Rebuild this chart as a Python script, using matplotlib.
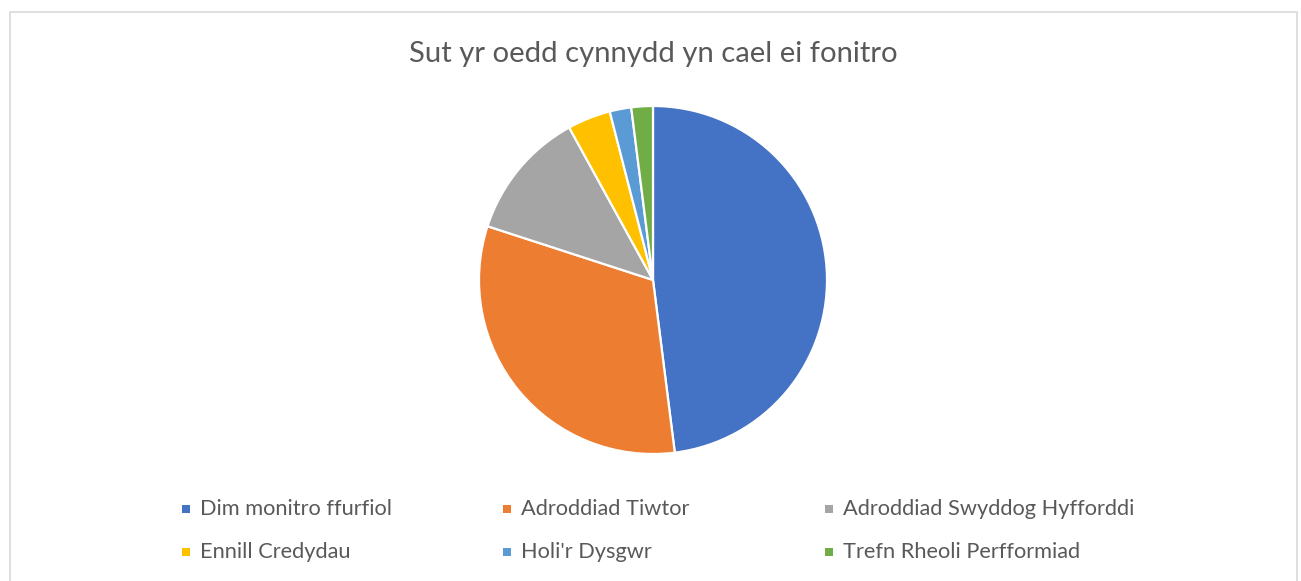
import matplotlib.pyplot as plt
import matplotlib.patches as patches

# donnees
labels = ["Dim monitro ffurfiol", "Adroddiad Tiwtor", "Adroddiad Swyddog Hyfforddi",
          "Ennill Credydau", "Holi'r Dysgwr", "Trefn Rheoli Perfformiad"]
values = [24, 16, 6, 2, 1, 1]
colors = ["#4472C4", "#ED7D31", "#A5A5A5", "#FFC000", "#5B9BD5", "#70AD47"]
title = "Sut yr oedd cynnydd yn cael ei fonitro"

plt.rcParams['font.family'] = ['Lato', 'DejaVu Sans']

W, H = 1301, 581
fig = plt.figure(figsize=(W / 100, H / 100), dpi=100)

# cadre du graphique
fig.patches.append(patches.Rectangle((9.5 / W, -0.1), 1287 / W, (H - 12.5) / H + 0.1,
                                     transform=fig.transFigure, fill=False,
                                     ec="#d9d9d9", lw=1.2))

# camembert : centre (653, 280), rayon 174 px
cx, cy, r = 653, 280, 174
pad = 1.05
ax = fig.add_axes([(cx - r * pad) / W, (H - cy - r * pad) / H, 2 * r * pad / W, 2 * r * pad / H])
ax.pie(values, colors=colors, startangle=90, counterclock=False,
       wedgeprops=dict(edgecolor="white", linewidth=1.6))
ax.set_xlim(-pad, pad)
ax.set_ylim(-pad, pad)
ax.set_aspect('equal')
ax.axis('off')

fig.text(cx / W, 1 - 54 / H, title, ha='center', va='center', fontsize=21.1,
         color="#595959")

# legende
colx = [186, 507, 829]
rowy = [509, 552]
for i in range(len(labels)):
    x = colx[i % 3]
    y = rowy[i // 3]
    fig.patches.append(patches.Rectangle(((x - 4) / W, 1 - (y + 4) / H), 8 / W, 8 / H,
                                         transform=fig.transFigure, fc=colors[i], ec='none'))
    fig.text((x + 14) / W, 1 - y / H, labels[i], ha='left', va='center', fontsize=15.7,
             color="#595959")

fig.savefig("out.png", dpi=100)
